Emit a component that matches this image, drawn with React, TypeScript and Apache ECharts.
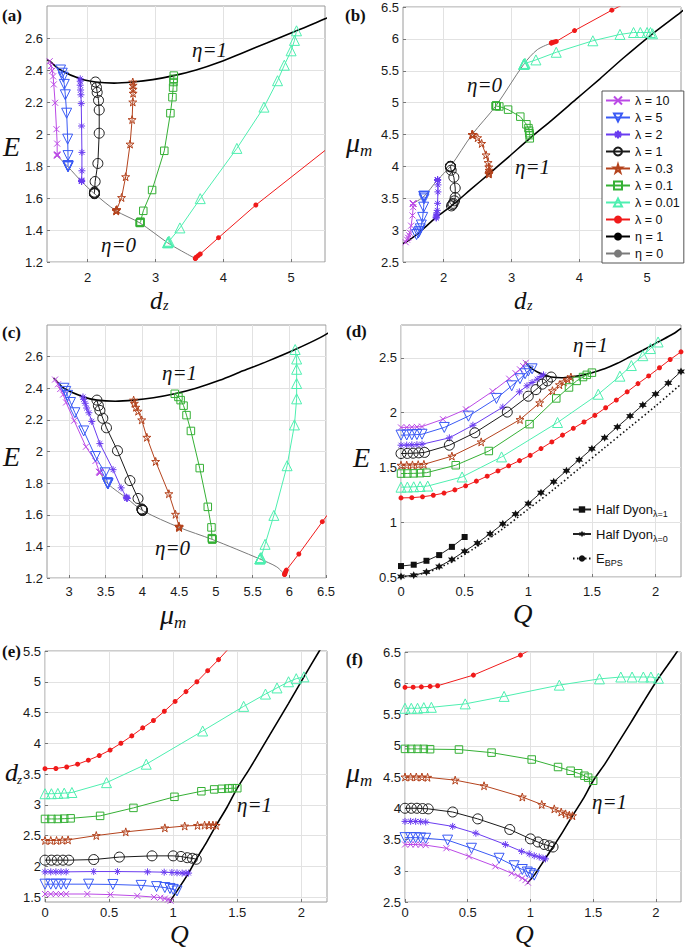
import React, { useEffect, useRef } from 'react';
import * as echarts from 'echarts';

// ---------- data ----------
// Each family (fixed λ) is a list of solutions: charge Q, energy E, separation d_z, magnetic moment μ_m
const Q10 = [0, 0.045, 0.085, 0.125, 0.165, 0.33, 0.51, 0.72, 0.85, 0.9, 0.935, 0.96, 0.98];
const E10 = [1.865, 1.866, 1.868, 1.87, 1.873, 1.94, 2.03, 2.195, 2.31, 2.36, 2.395, 2.425, 2.455];
const DZ10 = [1.55, 1.55, 1.55, 1.55, 1.55, 1.55, 1.54, 1.52, 1.5, 1.49, 1.475, 1.46, 1.44];
const MU10 = [3.42, 3.42, 3.42, 3.415, 3.41, 3.36, 3.23, 3.07, 2.96, 2.92, 2.88, 2.85, 2.81];

const Q5 = [0, 0.045, 0.085, 0.125, 0.165, 0.34, 0.53, 0.75, 0.87, 0.935, 0.975, 1.0, 1.03];
const E5 = [1.795, 1.796, 1.798, 1.8, 1.803, 1.865, 1.968, 2.13, 2.245, 2.31, 2.355, 2.38, 2.4];
const DZ5 = [1.71, 1.71, 1.71, 1.71, 1.71, 1.71, 1.705, 1.69, 1.67, 1.655, 1.64, 1.625, 1.6];
const MU5 = [3.53, 3.53, 3.53, 3.525, 3.52, 3.49, 3.36, 3.2, 3.08, 3.02, 2.98, 2.955, 2.93];

const Q2 = [0, 0.045, 0.085, 0.125, 0.165, 0.38, 0.565, 0.8, 0.93, 0.99, 1.03, 1.07, 1.1, 1.12];
const E2 = [1.703, 1.704, 1.706, 1.708, 1.712, 1.77, 1.885, 2.05, 2.19, 2.245, 2.275, 2.305, 2.33, 2.345];
const DZ2 = [1.91, 1.91, 1.91, 1.91, 1.91, 1.915, 1.915, 1.91, 1.905, 1.9, 1.895, 1.89, 1.89, 1.89];
const MU2 = [3.79, 3.79, 3.79, 3.785, 3.78, 3.71, 3.6, 3.42, 3.31, 3.27, 3.24, 3.22, 3.2, 3.19];

const Q1 = [0, 0.05, 0.095, 0.14, 0.185, 0.38, 0.58, 0.835, 1.0, 1.06, 1.11, 1.15, 1.18];
const E1 = [1.627, 1.628, 1.63, 1.633, 1.637, 1.703, 1.816, 2.005, 2.15, 2.21, 2.26, 2.29, 2.325];
const DZ1 = [2.1, 2.1, 2.1, 2.1, 2.1, 2.11, 2.15, 2.17, 2.17, 2.16, 2.14, 2.13, 2.115];
const MU1 = [4.0, 4.0, 4.0, 3.995, 3.99, 3.94, 3.83, 3.66, 3.51, 3.46, 3.42, 3.4, 3.38];

const Q03 = [0, 0.045, 0.09, 0.135, 0.18, 0.4, 0.63, 0.935, 1.09, 1.19, 1.245, 1.28, 1.31, 1.335];
const E03 = [1.52, 1.521, 1.523, 1.525, 1.528, 1.603, 1.733, 1.937, 2.09, 2.2, 2.255, 2.28, 2.305, 2.325];
const DZ03 = [2.42, 2.42, 2.42, 2.425, 2.43, 2.5, 2.56, 2.625, 2.655, 2.665, 2.67, 2.67, 2.67, 2.665];
const MU03 = [4.5, 4.5, 4.5, 4.5, 4.495, 4.45, 4.36, 4.18, 4.06, 3.99, 3.94, 3.91, 3.89, 3.88];

const Q01 = [0, 0.05, 0.1, 0.15, 0.2, 0.43, 0.69, 1.01, 1.22, 1.32, 1.38, 1.43, 1.46, 1.5];
const E01 = [1.444, 1.445, 1.446, 1.448, 1.452, 1.52, 1.65, 1.895, 2.13, 2.23, 2.29, 2.325, 2.345, 2.365];
const DZ01 = [2.77, 2.77, 2.77, 2.775, 2.78, 2.82, 2.95, 3.13, 3.22, 3.25, 3.26, 3.265, 3.27, 3.27];
const MU01 = [4.95, 4.95, 4.95, 4.95, 4.945, 4.94, 4.89, 4.78, 4.66, 4.6, 4.56, 4.52, 4.49, 4.44];

const Q001 = [0, 0.05, 0.1, 0.15, 0.21, 0.48, 0.79, 1.23, 1.55, 1.72, 1.81, 1.9, 1.96, 2.02];
const E001 = [1.32, 1.321, 1.323, 1.326, 1.33, 1.413, 1.596, 1.91, 2.168, 2.333, 2.43, 2.52, 2.585, 2.645];
const DZ001 = [3.18, 3.18, 3.185, 3.19, 3.2, 3.36, 3.66, 4.2, 4.6, 4.8, 4.9, 5.0, 5.05, 5.08];
const MU001 = [5.6, 5.6, 5.6, 5.61, 5.615, 5.67, 5.79, 5.97, 6.07, 6.1, 6.1, 6.1, 6.1, 6.08];

// λ = 0: coarse set (panels a, b, c, f; last entry continues the line past the frame)
const L0S_Q = [0, 0.065, 0.13, 0.2, 0.26, 0.545, 0.92, 1.417];
const L0S_E = [1.222, 1.224, 1.23, 1.24, 1.25, 1.352, 1.556, 1.897];
const L0S_DZ = [3.587, 3.59, 3.6, 3.63, 3.66, 3.93, 4.48, 5.5];
const L0S_MU = [5.935, 5.937, 5.942, 5.95, 5.96, 6.13, 6.45, 7.0];
// λ = 0: fine set (panels d, e)
const L0D_Q = [0, 0.085, 0.169, 0.254, 0.338, 0.423, 0.508, 0.592, 0.677, 0.762, 0.846, 0.931, 1.015, 1.1, 1.185, 1.269, 1.354, 1.438, 1.523, 1.608, 1.692, 1.777, 1.862, 1.946, 2.031, 2.115, 2.2];
const L0D_E = [1.222, 1.224, 1.232, 1.246, 1.266, 1.295, 1.332, 1.375, 1.42, 1.468, 1.515, 1.562, 1.61, 1.672, 1.733, 1.795, 1.857, 1.915, 1.975, 2.045, 2.115, 2.19, 2.265, 2.335, 2.41, 2.485, 2.555];
const L0D_DZ = [3.587, 3.59, 3.615, 3.66, 3.725, 3.8, 3.89, 4.0, 4.12, 4.25, 4.37, 4.52, 4.68, 4.84, 5.0, 5.18, 5.36, 5.55];

// η = 1 boundary (Q, E, d_z, μ_m)
const ETA1_Q = [0.975, 0.98, 1.03, 1.12, 1.18, 1.26, 1.335, 1.42, 1.5, 1.6, 1.7, 1.8, 1.9, 2.02, 2.14, 2.2];
const ETA1_E = [2.465, 2.455, 2.4, 2.345, 2.325, 2.318, 2.325, 2.34, 2.365, 2.4, 2.45, 2.51, 2.57, 2.645, 2.72, 2.77];
const ETA1_DZ = [1.4, 1.44, 1.6, 1.89, 2.115, 2.39, 2.665, 2.96, 3.27, 3.6, 3.95, 4.3, 4.65, 5.08, 5.5, 5.71];
const ETA1_MU = [2.79, 2.81, 2.93, 3.2, 3.38, 3.63, 3.88, 4.15, 4.44, 4.73, 5.05, 5.37, 5.7, 6.08, 6.42, 6.6];

// η = 0 boundary (Q = 0)
const ETA0_E = [1.865, 1.795, 1.703, 1.627, 1.52, 1.444, 1.32, 1.27, 1.222];
const ETA0_DZ = [1.55, 1.71, 1.91, 2.1, 2.42, 2.77, 3.18, 3.38, 3.587];
const ETA0_MU = [3.42, 3.53, 3.79, 4.0, 4.5, 4.95, 5.6, 5.83, 5.935];

// Half dyons and BPS bound (panel d)
const HD1_Q = [0, 0.1, 0.2, 0.3, 0.4, 0.5];
const HD1_E = [0.6, 0.612, 0.648, 0.7, 0.775, 0.865];
const HD0_Q = [0, 0.1, 0.2, 0.3, 0.4, 0.5, 0.6, 0.7, 0.8, 0.9, 1.0, 1.1, 1.2, 1.3, 1.4, 1.5, 1.6, 1.7, 1.8, 1.9, 2.0, 2.1, 2.2];
const HD0_E = [0.505, 0.515, 0.545, 0.595, 0.66, 0.735, 0.81, 0.895, 0.985, 1.075, 1.17, 1.27, 1.37, 1.47, 1.57, 1.67, 1.77, 1.87, 1.97, 2.07, 2.17, 2.27, 2.375];
const BPS_Q = [0, 0.2, 0.4, 0.6, 0.8, 1.0, 1.2, 1.4, 1.6, 1.8, 2.0, 2.2];
const BPS_E = [0.5, 0.54, 0.64, 0.78, 0.94, 1.12, 1.3, 1.49, 1.68, 1.87, 2.06, 2.26];

// tick labels
const TICKS_DZ = [2, 3, 4, 5];
const TICKS_E = [1.2, 1.4, 1.6, 1.8, 2, 2.2, 2.4, 2.6];
const TICKS_MU_X = [3, 3.5, 4, 4.5, 5, 5.5, 6, 6.5];
const TICKS_Q = [0, 0.5, 1, 1.5, 2];
const TICKS_E_D = [0.5, 1, 1.5, 2, 2.5];
const TICKS_DZ_E = [1.5, 2, 2.5, 3, 3.5, 4, 4.5, 5, 5.5];

const LEGEND_B = ['λ = 10', 'λ = 5', 'λ = 2', 'λ = 1', 'λ = 0.3', 'λ = 0.1', 'λ = 0.01', 'λ = 0', 'η = 1', 'η = 0'];

// ---------- styling ----------
const SANS = '"Liberation Sans", Arial, Helvetica, sans-serif';
const SERIF = '"Liberation Serif", "Times New Roman", serif';
const SYM_X = 'path://M0,0L10,10M10,0L0,10';
const SYM_AST = 'path://M5,0L5,10M0,5L10,5M1.5,1.5L8.5,8.5M8.5,1.5L1.5,8.5';
const SYM_STAR = 'path://M50,0L61,35L98,35L68,57L79,91L50,70L21,91L32,57L2,35L39,35Z';
const SYM_HEX = 'path://M50,0L62,28L93,25L75,50L93,75L62,72L50,100L38,72L7,75L25,50L7,25L38,28Z';

const FAMILIES = [
  { name: 'λ = 10', d: { Q: Q10, E: E10, DZ: DZ10, MU: MU10 }, color: '#bb4ae6', symbol: SYM_X, size: 6 },
  { name: 'λ = 5', d: { Q: Q5, E: E5, DZ: DZ5, MU: MU5 }, color: '#3a5af5', symbol: 'triangle', rotate: 180, size: 10 },
  { name: 'λ = 2', d: { Q: Q2, E: E2, DZ: DZ2, MU: MU2 }, color: '#6a3cf0', symbol: SYM_AST, size: 7 },
  { name: 'λ = 1', d: { Q: Q1, E: E1, DZ: DZ1, MU: MU1 }, color: '#1a1a1a', symbol: 'circle', size: 10 },
  { name: 'λ = 0.3', d: { Q: Q03, E: E03, DZ: DZ03, MU: MU03 }, color: '#b4431d', symbol: SYM_STAR, size: 8 },
  { name: 'λ = 0.1', d: { Q: Q01, E: E01, DZ: DZ01, MU: MU01 }, color: '#35b035', symbol: 'rect', size: 7.5 },
  { name: 'λ = 0.01', d: { Q: Q001, E: E001, DZ: DZ001, MU: MU001 }, color: '#4eefb0', symbol: 'triangle', size: 10 },
];
const LAM0 = { name: 'λ = 0', color: '#f01a1a' };
const L0_SPARSE = { Q: L0S_Q, E: L0S_E, DZ: L0S_DZ, MU: L0S_MU };
const L0_DENSE = { Q: L0D_Q, E: L0D_E, DZ: L0D_DZ };
const ETA1 = { Q: ETA1_Q, E: ETA1_E, DZ: ETA1_DZ, MU: ETA1_MU };
const ETA0 = { E: ETA0_E, DZ: ETA0_DZ, MU: ETA0_MU };

const PANELS = [
  { x: 'DZ', y: 'E', grid: { left: 47, top: 6, width: 278, height: 256 }, xr: [1.4, 5.5], yr: [1.2, 2.8], xt: TICKS_DZ, yt: TICKS_E, xm: 9 },
  { x: 'DZ', y: 'MU', grid: { left: 403, top: 7, width: 278, height: 255 }, xr: [1.4, 5.5], yr: [2.5, 6.5], xt: TICKS_DZ, yi: 0.5, xm: 9 },
  { x: 'MU', y: 'E', grid: { left: 47, top: 325, width: 279, height: 253 }, xr: [2.7, 6.5], yr: [1.2, 2.8], xt: TICKS_MU_X, yt: TICKS_E, xm: 7 },
  { x: 'Q', y: 'E', grid: { left: 401, top: 325, width: 280, height: 252 }, xr: [0, 2.2], yr: [0.5, 2.8], xt: TICKS_Q, yt: TICKS_E_D, xm: 8 },
  { x: 'Q', y: 'DZ', grid: { left: 45, top: 651, width: 282, height: 251 }, xr: [0, 2.2], yr: [1.42, 5.5], xt: TICKS_Q, yt: TICKS_DZ_E, xm: 4 },
  { x: 'Q', y: 'MU', grid: { left: 405, top: 652, width: 276, height: 250 }, xr: [0, 2.2], yr: [2.5, 6.5], xt: TICKS_Q, yi: 0.5, xm: 4 },
];

function zip(xs: number[], ys: number[]) {
  const n = Math.min(xs.length, ys.length);
  const out: number[][] = [];
  for (let i = 0; i < n; i++) out.push([xs[i], ys[i]]);
  return out;
}

const GRIDLINE = { show: true, lineStyle: { color: '#e2e2e2', width: 1 } };
const LABEL = { color: '#1a1a1a', fontSize: 13, fontFamily: SANS };

function makeAxis(gi: number, range: number[], ticks: number[] | undefined, interval: number | undefined, margin: number) {
  const ax: any = {
    type: 'value', gridIndex: gi, min: range[0], max: range[1],
    axisLine: { show: false },
    splitLine: GRIDLINE,
    axisTick: { show: true, inside: true, length: 3, lineStyle: { color: '#777' } },
    axisLabel: { ...LABEL, margin },
  };
  if (interval) {
    ax.interval = interval;
  } else if (ticks) {
    ax.axisLabel.customValues = ticks;
    ax.axisTick.customValues = ticks;
  }
  return ax;
}

function buildOption() {
  const series: any[] = [];
  PANELS.forEach((p, gi) => {
    const base = { type: 'line', xAxisIndex: gi, yAxisIndex: gi, animation: false, clip: true };
    series.push({
      ...base, name: 'η = 1', data: zip((ETA1 as any)[p.x], (ETA1 as any)[p.y]), symbol: 'none', smooth: 0.3,
      lineStyle: { color: '#000', width: 1.6 }, itemStyle: { color: '#000' }, z: 2,
    });
    if (gi < 3) {
      series.push({
        ...base, name: 'η = 0', data: zip((ETA0 as any)[p.x], (ETA0 as any)[p.y]), symbol: 'none', smooth: 0.3,
        lineStyle: { color: '#7a7a7a', width: 1 }, itemStyle: { color: '#7a7a7a' }, z: 2,
      });
    }
    FAMILIES.forEach((f) => {
      series.push({
        ...base, name: f.name, data: zip((f.d as any)[p.x], (f.d as any)[p.y]),
        symbol: f.symbol, symbolSize: f.size, symbolRotate: (f as any).rotate || 0,
        lineStyle: { color: f.color, width: 1 },
        itemStyle: { color: 'rgba(0,0,0,0)', borderColor: f.color, borderWidth: 1 },
        z: 3,
      });
    });
    const dense = gi === 3 || gi === 4;
    const src: any = dense ? L0_DENSE : L0_SPARSE;
    const pts = zip(src[p.x], src[p.y]);
    const data = dense ? pts : pts.map((v, i) => (i === pts.length - 1 ? { value: v, symbol: 'none' } : v));
    series.push({
      ...base, name: LAM0.name, data, symbol: 'circle', symbolSize: 5,
      lineStyle: { color: LAM0.color, width: 1 }, itemStyle: { color: LAM0.color }, z: 3,
    });
  });
  // panel d extras
  series.push({
    type: 'line', xAxisIndex: 3, yAxisIndex: 3, name: 'HalfDyon1', data: zip(HD1_Q, HD1_E),
    symbol: 'rect', symbolSize: 6, lineStyle: { color: '#222', width: 1 }, itemStyle: { color: '#111' }, z: 3,
  });
  series.push({
    type: 'line', xAxisIndex: 3, yAxisIndex: 3, name: 'HalfDyon0', data: zip(HD0_Q, HD0_E),
    symbol: SYM_HEX, symbolSize: 8, lineStyle: { color: '#222', width: 1 }, itemStyle: { color: '#111' }, z: 3,
  });
  series.push({
    type: 'line', xAxisIndex: 3, yAxisIndex: 3, name: 'EBPS', data: zip(BPS_Q, BPS_E), smooth: 0.3,
    symbol: 'none', lineStyle: { color: '#111', width: 1.6, type: [1.5, 2.5] }, itemStyle: { color: '#111' }, z: 2,
  });

  const txt = (x: number, y: number, text: string, size: number, extra: any = {}) => ({
    type: 'text', x, y, z: 100,
    style: { text, fontSize: size, fontFamily: SERIF, fontStyle: 'italic', fill: '#111', align: 'left', verticalAlign: 'middle', ...extra },
  });
  const bold = (x: number, y: number, text: string) => txt(x, y, text, 17, { fontStyle: 'normal', fontWeight: 'bold' });

  const graphic: any[] = [
    bold(2, 15, '(a)'), bold(345, 15, '(b)'), bold(2, 332, '(c)'), bold(346, 331, '(d)'), bold(2, 651, '(e)'), bold(346, 659, '(f)'),
    // axis names
    txt(3, 146, 'E', 28),
    txt(150, 300, 'd', 25), txt(163, 305, 'z', 14),
    txt(346, 142, 'μ', 28), txt(360, 150, 'm', 17),
    txt(514, 300, 'd', 25), txt(527, 305, 'z', 14),
    txt(3, 456, 'E', 28),
    txt(160, 614, 'μ', 28), txt(174, 622, 'm', 17),
    txt(353, 457, 'E', 28),
    txt(513, 614, 'Q', 27),
    txt(5, 772, 'd', 26), txt(17, 779, 'z', 13),
    txt(170, 934, 'Q', 26),
    txt(346, 772, 'μ', 28), txt(360, 780, 'm', 17),
    txt(515, 934, 'Q', 26),
    // boundary annotations
    txt(192, 50, 'η=1', 21), txt(101, 245, 'η=0', 21),
    txt(467, 85, 'η=0', 21), txt(515, 167, 'η=1', 21),
    txt(162, 373, 'η=1', 21), txt(155, 548, 'η=0', 21),
    txt(573, 345, 'η=1', 21),
    txt(237, 805, 'η=1', 21),
    txt(592, 802, 'η=1', 21),
  ];

  return {
    animation: false,
    backgroundColor: '#ffffff',
    grid: PANELS.map((p) => ({ ...p.grid, show: true, borderColor: '#9a9a9a', borderWidth: 1, backgroundColor: '#fff', containLabel: false, outerBoundsMode: 'none' })),
    xAxis: PANELS.map((p, gi) => makeAxis(gi, p.xr, p.xt, undefined, p.xm)),
    yAxis: PANELS.map((p, gi) => makeAxis(gi, p.yr, (p as any).yt, (p as any).yi, 4)),
    legend: [
      {
        data: LEGEND_B, orient: 'vertical', left: 602, top: 91, itemGap: 4, itemWidth: 24, itemHeight: 10,
        backgroundColor: '#fff', borderColor: '#555', borderWidth: 1, padding: [3, 4, 3, 3], selectedMode: false,
        textStyle: { fontSize: 12.5, fontFamily: SANS, color: '#111' },
      },
      {
        data: ['HalfDyon1', 'HalfDyon0', 'EBPS'], orient: 'vertical', left: 572, top: 503, itemGap: 9, itemWidth: 18, itemHeight: 8,
        selectedMode: false, padding: 0,
        formatter: (name: string) => (name === 'HalfDyon1' ? 'Half Dyon{s|λ=1}' : name === 'HalfDyon0' ? 'Half Dyon{s|λ=0}' : 'E{s|BPS}'),
        textStyle: { fontSize: 13, fontFamily: SANS, color: '#111', rich: { s: { fontSize: 9, fontFamily: SANS, color: '#111', padding: [9, 0, 0, 0] } } },
      },
    ],
    series,
    graphic,
  };
}

export default function App() {
  const ref = useRef<HTMLDivElement>(null);
  useEffect(() => {
    if (!ref.current) return;
    const chart = echarts.init(ref.current, null, { renderer: 'svg' });
    chart.setOption(buildOption() as any);
    return () => chart.dispose();
  }, []);
  return <div ref={ref} style={{ position: 'absolute', left: 0, top: 0, width: 685, height: 948, background: '#fff' }} />;
}
